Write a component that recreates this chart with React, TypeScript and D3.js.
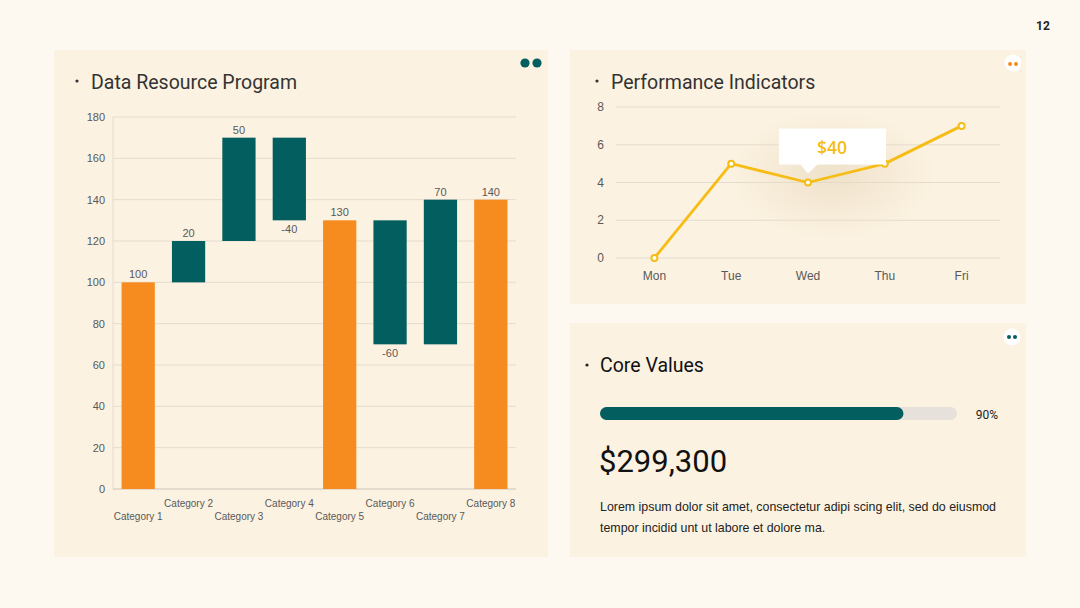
import React from 'react';
import * as d3 from 'd3';

// waterfall panel
const categories = ['Category 1', 'Category 2', 'Category 3', 'Category 4', 'Category 5', 'Category 6', 'Category 7', 'Category 8'];
const changes = [100, 20, 50, -40, 130, -60, 70, 140];
const isTotal = [true, false, false, false, true, false, false, true];
const yTicks = [0, 20, 40, 60, 80, 100, 120, 140, 160, 180];

// line panel
const days = ['Mon', 'Tue', 'Wed', 'Thu', 'Fri'];
const dayValues = [0, 5, 4, 5, 7];
const lineTicks = [0, 2, 4, 6, 8];
const tipDay = 'Wed';
const tipText = '$40';

// core values panel
const progressFill = 0.85;
const progressLabel = '90%';
const bigNumber = '$299,300';
const bodyLines = [
  'Lorem ipsum dolor sit amet, consectetur adipi scing elit, sed do eiusmod',
  'tempor incidid unt ut labore et dolore ma.',
];

const ORANGE = '#F68B1F';
const TEAL = '#035E60';
const YELLOW = '#F5BD15';
const GRID = '#E4DCCF';
const LABEL = '#595959';
const PANEL = '#FCF2E1';
const titleFont = 'Roboto, "Noto Sans", sans-serif';
const labelFont = '"Liberation Sans", Arial, sans-serif';

const App = () => {
  // waterfall
  const x = d3.scaleBand().domain(categories).range([113, 516]).paddingInner(0.34).paddingOuter(0.17);
  const y = d3.scaleLinear().domain([0, 180]).range([489, 117]);

  let running = 0;
  const bars = changes.map((v, i) => {
    let start, end;
    if (isTotal[i]) { start = 0; end = v; } else { start = running; end = running + v; }
    running = end;
    return { cat: categories[i], v, start, end, total: isTotal[i] };
  });

  // line chart
  const lx = d3.scalePoint().domain(days).range([616, 1000]).padding(0.5);
  const ly = d3.scaleLinear().domain([0, 8]).range([258, 107]);
  const line = d3.line<number>().x((d, i) => lx(days[i]) as number).y(d => ly(d));
  const tipX = lx(tipDay) as number;
  const tipY = ly(dayValues[days.indexOf(tipDay)]);

  // progress
  const px = d3.scaleLinear().domain([0, 1]).range([600, 957]);

  return (
    <svg width={1080} height={608} style={{ position: 'absolute', left: 0, top: 0 }}>
      <defs>
        <radialGradient id="glow" cx="50%" cy="50%" r="50%">
          <stop offset="0%" stopColor="#E8D9BF" stopOpacity={0.65} />
          <stop offset="100%" stopColor="#E8D9BF" stopOpacity={0} />
        </radialGradient>
      </defs>
      <rect width={1080} height={608} fill="#FDF8F0" />
      <text x={1043} y={30} fontFamily={titleFont} fontWeight={700} fontSize={12} fill="#222" textAnchor="middle">12</text>

      {/* left panel */}
      <rect x={54} y={50} width={494} height={507} fill={PANEL} />
      <circle cx={525} cy={63} r={4.6} fill={TEAL} />
      <circle cx={537} cy={63} r={4.6} fill={TEAL} />
      <circle cx={77} cy={81} r={1.6} fill="#333" />
      <text x={91} y={89} fontFamily={titleFont} fontSize={19.5} fill="#333">Data Resource Program</text>

      {yTicks.map(t => (
        <g key={t}>
          <line x1={113} x2={516} y1={y(t)} y2={y(t)} stroke={GRID} strokeWidth={1} />
          <text x={105} y={y(t) + 4} textAnchor="end" fontFamily={labelFont} fontSize={11} fill={LABEL}>{t}</text>
        </g>
      ))}
      <line x1={113} x2={113} y1={117} y2={489} stroke={GRID} />
      <line x1={113} x2={516} y1={489} y2={489} stroke="#D6CEC2" />

      {bars.map((b, i) => {
        const top = y(Math.max(b.start, b.end));
        const bot = y(Math.min(b.start, b.end));
        const bx = x(b.cat) as number;
        const cx = bx + x.bandwidth() / 2;
        const neg = b.v < 0;
        return (
          <g key={b.cat}>
            <rect x={bx} y={top} width={x.bandwidth()} height={bot - top} fill={b.total ? ORANGE : TEAL} />
            <text x={cx} y={neg ? bot + 13 : top - 4} textAnchor="middle" fontFamily={labelFont} fontSize={11} fill={LABEL}>{b.v}</text>
            <text x={cx} y={i % 2 === 0 ? 520 : 507} textAnchor="middle" fontFamily={labelFont} fontSize={10} fill={LABEL}>{b.cat}</text>
          </g>
        );
      })}

      {/* top right panel */}
      <rect x={570} y={50} width={456} height={254} fill={PANEL} />
      <circle cx={1013} cy={63} r={8.5} fill="#FFFFFF" />
      <circle cx={1010} cy={64} r={2} fill={ORANGE} />
      <circle cx={1016} cy={64} r={2} fill={ORANGE} />
      <circle cx={597} cy={81} r={1.6} fill="#333" />
      <text x={611} y={89} fontFamily={titleFont} fontSize={19.5} fill="#333">Performance Indicators</text>

      {lineTicks.map(t => (
        <g key={t}>
          <line x1={616} x2={1000} y1={ly(t)} y2={ly(t)} stroke={GRID} />
          <text x={604} y={ly(t) + 4} textAnchor="end" fontFamily={labelFont} fontSize={12} fill={LABEL}>{t}</text>
        </g>
      ))}
      {days.map(d => (
        <text key={d} x={lx(d)} y={280} textAnchor="middle" fontFamily={labelFont} fontSize={12} fill={LABEL}>{d}</text>
      ))}

      <ellipse cx={tipX + 24} cy={tipY - 8} rx={105} ry={65} fill="url(#glow)" />
      <path d={line(dayValues) as string} fill="none" stroke={YELLOW} strokeWidth={2.8} strokeLinejoin="round" />
      {dayValues.map((v, i) => (
        <circle key={i} cx={lx(days[i])} cy={ly(v)} r={3} fill="#FFFFFF" stroke={YELLOW} strokeWidth={2} />
      ))}
      <rect x={tipX - 29} y={tipY - 54} width={107} height={36} fill="#FFFFFF" />
      <path d={`M${tipX - 8},${tipY - 18.5} L${tipX},${tipY - 9} L${tipX + 10},${tipY - 18.5} Z`} fill="#FFFFFF" />
      <text x={tipX + 24} y={tipY - 29} textAnchor="middle" fontFamily='"Open Sans", sans-serif' fontWeight={600} fontSize={17.5} fill={YELLOW}>{tipText}</text>

      {/* bottom right panel */}
      <rect x={570} y={323} width={456} height={234} fill={PANEL} />
      <circle cx={1012} cy={337} r={8.5} fill="#FFFFFF" />
      <circle cx={1009} cy={337} r={2} fill={TEAL} />
      <circle cx={1015} cy={337} r={2} fill={TEAL} />
      <circle cx={587} cy={365} r={1.6} fill="#222" />
      <text x={600} y={372} fontFamily={titleFont} fontSize={19.5} fill="#111">Core Values</text>

      <rect x={px(0)} y={407} width={px(1) - px(0)} height={13} rx={6.5} fill="#E6E1DA" />
      <rect x={px(0)} y={407} width={px(progressFill) - px(0)} height={13} rx={6.5} fill={TEAL} />
      <text x={998} y={419} textAnchor="end" fontFamily={titleFont} fontSize={12} fill="#222">{progressLabel}</text>

      <text x={599} y={472} fontFamily={titleFont} fontSize={31} fill="#111">{bigNumber}</text>
      {bodyLines.map((l, i) => (
        <text key={i} x={600} y={511 + i * 21} fontFamily={labelFont} fontSize={12.4} fill="#222">{l}</text>
      ))}
    </svg>
  );
};

export default App;
